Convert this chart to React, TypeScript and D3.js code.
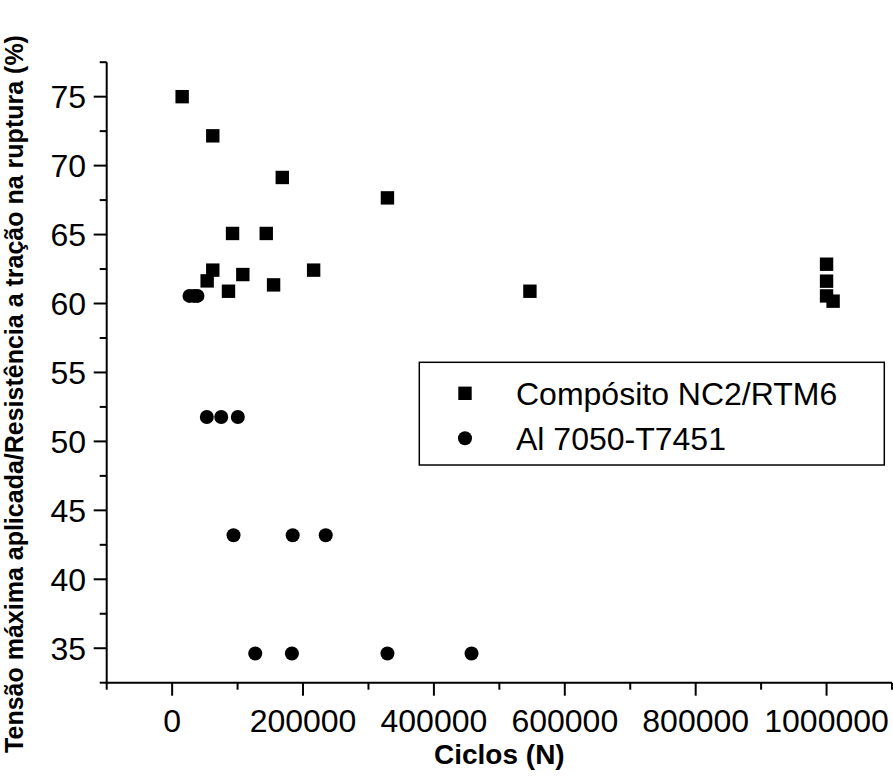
import React from "react";
import * as d3 from "d3";

const compositeCycles = [15300, 62100, 168300, 329000, 92300, 143800, 62100, 216200, 108000, 53500, 155000, 86100, 546700, 1000000, 1000000, 1000000, 1010000];
const compositeStress = [75.0, 72.16, 69.14, 67.66, 65.08, 65.08, 62.42, 62.42, 62.1, 61.64, 61.35, 60.89, 60.89, 62.85, 61.62, 60.55, 60.17];
const alCycles = [26500, 33400, 38700, 53000, 75000, 100400, 93800, 184200, 234700, 127000, 183000, 329000, 457500];
const alStress = [60.55, 60.55, 60.55, 51.77, 51.77, 51.77, 43.19, 43.19, 43.19, 34.62, 34.62, 34.62, 34.62];
const xMajorTicks = [0, 200000, 400000, 600000, 800000, 1000000];
const xMinorTicks = [-100000, 100000, 300000, 500000, 700000, 900000, 1100000];
const yMajorTicks = [35, 40, 45, 50, 55, 60, 65, 70, 75];
const yMinorTicks = [32.5, 37.5, 42.5, 47.5, 52.5, 57.5, 62.5, 67.5, 72.5, 77.5];
const legendLabels = ["Compósito NC2/RTM6", "Al 7050-T7451"];
const xTitle = "Ciclos (N)";
const yTitle = "Tensão máxima aplicada/Resistência a tração na ruptura (%)";

const W = 893, H = 776;
const FONT = "'Liberation Sans', Arial, Helvetica, sans-serif";

export default function App() {
  const x = d3.scaleLinear().domain([-100000, 1100000]).range([106.7, 892]);
  const y = d3.scaleLinear().domain([32.5, 77.5]).range([682.7, 62.2]);
  const x0 = x.range()[0];
  const y0 = y.range()[0];
  const sq = 13.4;
  const r = 7;
  return (
    <svg width={W} height={H} style={{ position: "absolute", left: 0, top: 0, background: "#fff" }} fontFamily={FONT}>
      <rect x={0} y={0} width={W} height={H} fill="#fff" />
      {/* axes */}
      <line x1={x0} x2={x0} y1={y.range()[1]} y2={y0 + 1} stroke="#000" strokeWidth={2} />
      <line x1={x0 - 1} x2={x.range()[1]} y1={y0} y2={y0} stroke="#000" strokeWidth={2} />
      {xMajorTicks.map((t) => (
        <g key={"xm" + t}>
          <line x1={x(t)} x2={x(t)} y1={y0} y2={y0 + 13} stroke="#000" strokeWidth={2} />
          <text x={x(t)} y={731.5} fontSize={32} textAnchor="middle" fill="#000">{t}</text>
        </g>
      ))}
      {xMinorTicks.map((t) => (
        <line key={"xn" + t} x1={x(t)} x2={x(t)} y1={y0} y2={y0 + 7} stroke="#000" strokeWidth={2} />
      ))}
      {yMajorTicks.map((t) => (
        <g key={"ym" + t}>
          <line x1={x0} x2={x0 - 13} y1={y(t)} y2={y(t)} stroke="#000" strokeWidth={2} />
          <text x={86} y={y(t) + 11.5} fontSize={32} textAnchor="end" fill="#000">{t}</text>
        </g>
      ))}
      {yMinorTicks.map((t) => (
        <line key={"yn" + t} x1={x0} x2={x0 - 7} y1={y(t)} y2={y(t)} stroke="#000" strokeWidth={2} />
      ))}
      {/* titles */}
      <text x={(x.range()[0] + x.range()[1]) / 2} y={764} fontSize={28} fontWeight="bold" textAnchor="middle" fill="#000">{xTitle}</text>
      <text transform={`translate(22.5,394) rotate(-90)`} fontSize={25} fontWeight="bold" textAnchor="middle" fill="#000">{yTitle}</text>
      {/* data */}
      {compositeCycles.map((c, i) => (
        <rect key={"c" + i} x={x(c) - sq / 2} y={y(compositeStress[i]) - sq / 2} width={sq} height={sq} fill="#000" />
      ))}
      {alCycles.map((c, i) => (
        <circle key={"a" + i} cx={x(c)} cy={y(alStress[i])} r={r} fill="#000" />
      ))}
      {/* legend */}
      <rect x={419.3} y={362.3} width={465} height={102.7} fill="#fff" stroke="#000" strokeWidth={1.5} />
      <rect x={465 - sq / 2} y={393.3 - sq / 2} width={sq} height={sq} fill="#000" />
      <circle cx={465} cy={438.3} r={r} fill="#000" />
      <text x={516} y={393.3 + 11.5} fontSize={32} fill="#000">{legendLabels[0]}</text>
      <text x={516} y={438.3 + 11.5} fontSize={32} fill="#000">{legendLabels[1]}</text>
    </svg>
  );
}
